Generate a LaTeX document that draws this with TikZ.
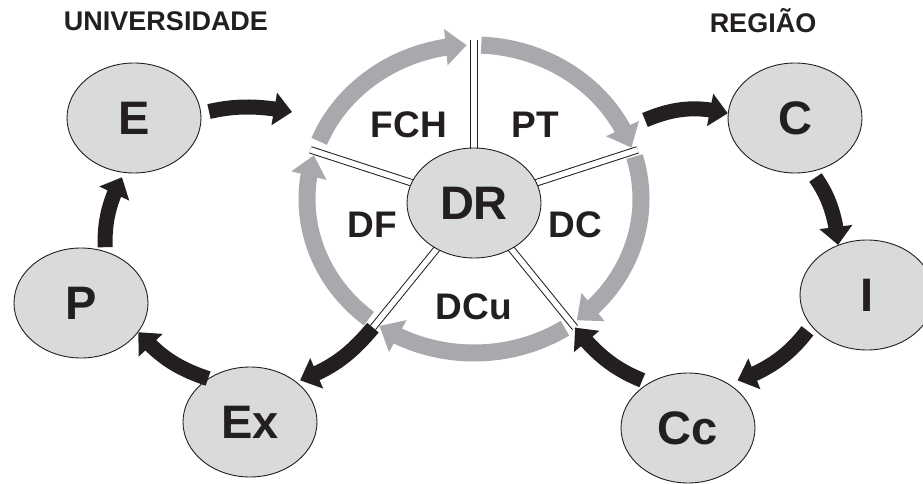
\documentclass[tikz,border=0pt]{standalone}
\usepackage{fontspec}
\setmainfont{Liberation Sans}
\usetikzlibrary{shapes.geometric,arrows.meta,bending,calc}
\definecolor{ellfill}{HTML}{D9DADC}
\definecolor{ringgray}{HTML}{A7A9AC}
\definecolor{ink}{HTML}{231F20}
\begin{document}
\begin{tikzpicture}[x=1pt,y=1pt,
  bubble/.style={ellipse, draw=ink, line width=0.9pt, fill=ellfill, minimum width=134pt, minimum height=110pt, inner sep=0pt, font=\fontsize{47}{47}\selectfont\bfseries, text=ink},
  seglabel/.style={font=\fontsize{37}{37}\selectfont\bfseries, text=ink},
  titletext/.style={font=\fontsize{27}{27}\selectfont\bfseries, text=ink},
  flow/.style={draw=ink, line width=15pt, -{Triangle[width=32pt,length=18pt,flex]}},
  ringarc/.style={draw=ringgray, line width=17pt, -{Triangle[width=35pt,length=21pt,flex]}},
  spoke/.style={draw=ink, line width=1pt, double=white, double distance=5.5pt},
]
\useasboundingbox (0,0) rectangle (923,483);
\clip (0,0) rectangle (923,483);
\coordinate (O) at (474,284);
\coordinate (DRc) at (474,280);
\coordinate (s1) at ($(O)+(90:172pt and 159pt)$);
\coordinate (s2) at ($(O)+(18:172pt and 159pt)$);
\coordinate (s3) at ($(O)+(-54:172pt and 159pt)$);
\coordinate (s4) at ($(O)+(-126:172pt and 159pt)$);
\coordinate (s5) at ($(O)+(162:172pt and 159pt)$);
\foreach \n in {s1,s2,s3,s4,s5} \draw[spoke] (DRc) -- (\n);
% gray ring segments
\draw[ringarc] ($(O)+(158:167pt and 154pt)$) arc[start angle=158, end angle=92.5, x radius=167pt, y radius=154pt];
\draw[ringarc] ($(O)+(87.5:167pt and 154pt)$) arc[start angle=87.5, end angle=19.5, x radius=167pt, y radius=154pt];
\draw[ringarc] ($(O)+(16:167pt and 154pt)$) arc[start angle=16, end angle=-52, x radius=167pt, y radius=154pt];
\draw[ringarc] ($(O)+(-57:167pt and 154pt)$) arc[start angle=-57, end angle=-124.5, x radius=167pt, y radius=154pt];
\draw[ringarc] ($(O)+(-129:167pt and 154pt)$) arc[start angle=-129, end angle=-196.5, x radius=167pt, y radius=154pt];
% nodes
\node[bubble] (DR) at (DRc) {DR};
\node[seglabel] (fch) at (409,358) {FCH};
\node[seglabel] (pt) at (535,358) {PT};
\node[seglabel] (df) at (372,258) {DF};
\node[seglabel] (dc) at (575,258) {DC};
\node[seglabel] (dcu) at (474,176) {DCu};
\node[bubble] (E) at (134,365) {E};
\node[bubble] (P) at (81,180) {P};
\node[bubble] (Ex) at (250,61) {Ex};
\node[bubble] (C) at (795,365) {C};
\node[bubble] (I) at (867,188) {I};
\node[bubble] (Cc) at (688,55) {Cc};
\node[titletext] (univ) at (166,462) {UNIVERSIDADE};
\node[titletext] (reg) at (763,462) {REGIÃO};
\coordinate (wIn) at (292,371);
\coordinate (wOut) at (645,363);
% black flow arrows
\draw[flow, shorten <=8pt] (E.4) to[bend left=12] (wIn);
\draw[flow] (wOut) to[bend left=18] (C.176);
\draw[flow, shorten <=7pt] (C.-73) to[bend left=15] (I.120);
\draw[flow, shorten <=6pt, shorten >=10pt] (I.209) to[bend left=18] (Cc.48);
\draw[flow, shorten <=7pt] (Cc.131) to[bend left=15] (s3);
\draw[flow, shorten >=4pt] (s4) to[bend left=15] (Ex.41);
\draw[flow] (Ex.134) to[bend left=15] (P.-27);
\draw[flow, shorten <=4pt, shorten >=5pt] (P.65) to[bend left=15] (E.260);
\end{tikzpicture}
\end{document}
